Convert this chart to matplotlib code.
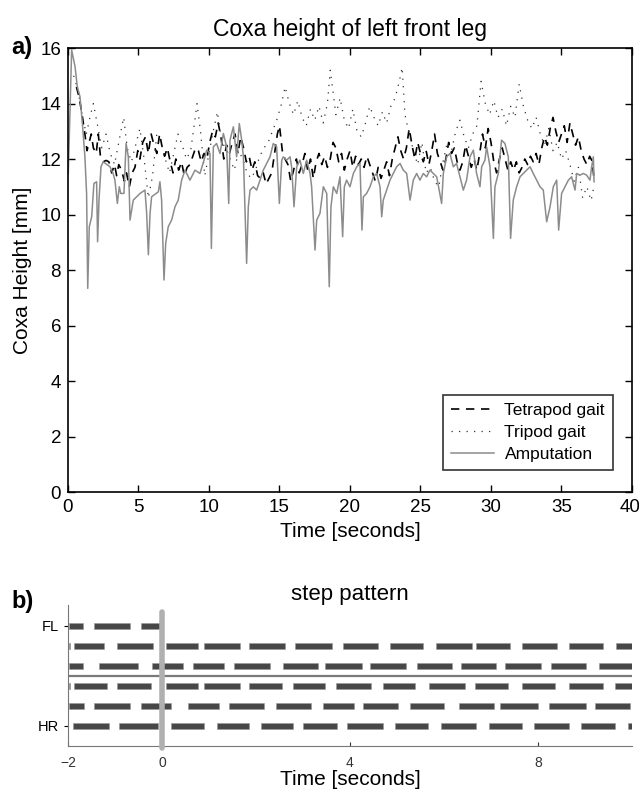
import matplotlib
matplotlib.use("Agg")
import matplotlib.pyplot as plt
import matplotlib.transforms as mtransforms
import numpy as np

plt.rcParams['font.family'] = ['Liberation Sans', 'DejaVu Sans']

# --- panel a: coxa height (mm) over time (s) ---
amp_t = [0.02, 0.26, 0.50, 0.66, 0.85, 1.04, 1.20, 1.32, 1.40, 1.51, 1.68, 1.84, 2.03, 2.10, 2.20,
         2.34, 2.50, 2.98, 3.20, 3.33, 3.50, 3.64, 3.74, 3.97, 4.12, 4.28, 4.40, 4.63, 5.11, 5.46,
         5.58, 5.70, 5.82, 5.93, 6.41, 6.52, 6.64, 6.81, 6.93, 7.11, 7.35, 7.59, 7.82, 8.06, 8.30,
         8.65, 9.01, 9.36, 9.65, 9.84, 10.07, 10.17, 10.31, 10.54, 10.78, 11.02, 11.25, 11.40, 11.49,
         11.73, 11.96, 12.15, 12.32, 12.44, 12.67, 12.79, 12.91, 13.15, 13.38, 13.62, 13.85, 14.09,
         14.33, 14.56, 14.80, 14.99, 15.16, 15.27, 15.51, 15.75, 15.86, 16.03, 16.22, 16.45, 16.69,
         16.93, 17.17, 17.28, 17.52, 17.64, 17.87, 18.11, 18.35, 18.53, 18.65, 18.82, 19.06, 19.29,
         19.48, 19.60, 19.76, 20.00, 20.24, 20.48, 20.71, 20.85, 20.95, 21.18, 21.42, 21.66, 21.89,
         22.13, 22.25, 22.36, 22.60, 22.84, 23.07, 23.31, 23.55, 23.78, 24.02, 24.26, 24.49, 24.73,
         24.96, 25.20, 25.44, 25.67, 25.91, 26.15, 26.50, 26.62, 26.86, 27.09, 27.33, 27.56, 27.80,
         28.04, 28.27, 28.51, 28.75, 28.98, 29.22, 29.34, 29.57, 29.69, 29.93, 30.17, 30.28, 30.52,
         30.75, 30.99, 31.23, 31.39, 31.58, 31.82, 32.06, 32.29, 32.53, 32.77, 33.00, 33.24, 33.48,
         33.71, 33.95, 34.19, 34.42, 34.66, 34.80, 35.01, 35.25, 35.49, 35.72, 35.96, 36.08, 36.31,
         36.55, 36.78, 37.02, 37.14, 37.26, 37.31]
amp_v = [11.48, 15.93, 15.33, 14.61, 14.25, 13.16, 12.08, 10.76, 7.34, 9.56, 9.92, 11.12, 11.18, 9.02, 10.52,
         11.72, 11.90, 11.72, 11.48, 11.24, 10.40, 11.00, 10.76, 10.76, 12.56, 12.08, 9.80, 10.52, 10.76, 10.88,
         10.04, 8.55, 10.04, 10.64, 10.82, 11.18, 10.52, 7.64, 8.96, 9.56, 9.80, 10.28, 10.52, 11.24, 11.60,
         11.24, 11.60, 11.48, 11.96, 12.32, 12.20, 8.78, 12.44, 12.56, 12.20, 12.92, 12.44, 10.40, 12.68,
         13.16, 12.08, 13.28, 12.68, 12.08, 8.24, 10.28, 10.88, 11.00, 10.88, 11.24, 11.60, 11.84,
         12.08, 12.56, 12.44, 10.40, 11.96, 12.08, 11.96, 12.08, 11.72, 10.28, 11.72, 11.96, 11.48,
         11.96, 11.48, 11.00, 8.72, 9.80, 10.04, 11.00, 10.76, 7.40, 10.28, 11.00, 10.76, 11.36,
         9.20, 11.00, 11.24, 11.00, 11.48, 11.72, 11.84, 9.44, 10.64, 10.76, 11.00, 11.36, 11.48,
         11.00, 9.92, 10.52, 10.88, 11.24, 11.48, 11.72, 11.84, 11.60, 11.48, 10.52, 11.24, 11.48,
         11.24, 11.48, 11.36, 11.60, 11.48, 11.36, 10.40, 11.48, 12.08, 12.20, 11.72, 11.84, 11.36,
         10.88, 11.24, 12.08, 12.32, 11.48, 11.00, 11.72, 11.96, 12.44, 11.72, 9.14, 11.00, 11.48,
         12.68, 12.56, 12.08, 9.14, 10.52, 11.00, 11.36, 11.48, 11.60, 11.72, 11.48, 11.24, 11.00,
         10.88, 9.74, 10.28, 11.00, 11.24, 9.44, 10.76, 11.00, 11.24, 11.36, 10.88, 11.48, 11.42,
         11.48, 11.42, 11.24, 11.72, 12.08, 11.18]

tetra_t = [0.6, 0.8, 1.0, 1.2, 1.35, 1.5, 1.65, 1.8, 2.0, 2.15, 2.3, 2.5, 2.7, 2.9, 3.1, 3.3, 3.45, 3.6,
           3.8, 4.0, 4.15, 4.35, 4.55, 4.75, 4.95, 5.1, 5.3, 5.5, 5.7, 5.9, 6.1, 6.3, 6.5, 6.65, 6.85,
           7.05, 7.25, 7.45, 7.65, 7.85, 8.05, 8.25, 8.45, 8.65, 8.85, 9.05, 9.25, 9.45, 9.65, 9.85,
           10.05, 10.25, 10.45, 10.65, 10.85, 11.05, 11.25, 11.45, 11.65, 11.85, 12.05, 12.25, 12.45,
           12.65, 12.85, 13.05, 13.25, 13.45, 13.65, 13.85, 14.05, 14.25, 14.45, 14.65, 14.85, 15.0,
           15.2, 15.4, 15.6, 15.8, 16.0, 16.2, 16.4, 16.6, 16.8, 17.0, 17.2, 17.4, 17.6, 17.8, 18.0,
           18.2, 18.4, 18.6, 18.8, 19.0, 19.2, 19.4, 19.6, 19.8, 20.0, 20.2, 20.4, 20.6, 20.8, 21.0,
           21.2, 21.4, 21.6, 21.8, 22.0, 22.2, 22.4, 22.6, 22.8, 23.0, 23.2, 23.4, 23.6, 23.8, 24.0,
           24.2, 24.4, 24.6, 24.8, 25.0, 25.2, 25.4, 25.6, 25.8, 26.0, 26.2, 26.4, 26.6, 26.8, 27.0,
           27.2, 27.4, 27.6, 27.8, 28.0, 28.2, 28.4, 28.6, 28.8, 29.0, 29.2, 29.4, 29.6, 29.8, 30.0,
           30.2, 30.4, 30.6, 30.8, 31.0, 31.2, 31.4, 31.6, 31.8, 32.0, 32.2, 32.4, 32.6, 32.8, 33.0,
           33.2, 33.4, 33.6, 33.8, 34.0, 34.2, 34.4, 34.6, 34.8, 35.0, 35.2, 35.4, 35.6, 35.8, 36.0,
           36.2, 36.4, 36.6, 36.8, 37.0, 37.2, 37.3]
tetra_v = [14.6, 14.2, 13.6, 12.9, 12.3, 12.6, 12.9, 12.4, 12.2, 12.9, 12.1, 11.9, 11.95, 11.9, 11.5, 11.8,
           11.4, 11.8, 11.6, 11.2, 11.5, 11.0, 11.5, 11.7, 12.3, 12.0, 12.6, 12.8, 12.2, 12.9, 12.5, 12.2,
           12.9, 12.5, 12.1, 12.4, 11.9, 11.5, 12.0, 11.6, 11.9, 11.4, 11.7, 11.8, 12.1, 12.4, 12.3, 11.9,
           12.2, 12.0, 12.6, 13.0, 12.8, 13.3, 12.8, 12.0, 12.5, 12.2, 12.6, 12.9, 12.2, 12.8, 12.4, 11.9,
           12.1, 11.6, 11.9, 11.4, 11.3, 11.5, 11.1, 11.3, 11.5, 12.2, 12.9, 13.2, 12.3, 12.0, 11.8, 11.2,
           11.6, 12.0, 11.5, 11.8, 12.2, 11.6, 12.0, 11.3, 11.9, 12.2, 11.8, 12.1, 11.7, 12.0, 12.6, 12.4,
           11.9, 12.2, 11.6, 12.0, 12.3, 11.7, 12.1, 11.8, 12.0, 11.7, 12.1, 11.8, 11.5, 11.2, 11.7, 11.3,
           11.6, 11.9, 11.4, 12.0, 12.4, 12.8, 12.3, 12.0, 12.4, 13.1, 12.5, 12.0, 12.6, 12.2, 11.9, 12.3,
           11.8, 12.3, 12.9, 12.2, 11.9, 11.6, 12.0, 12.6, 12.2, 12.4, 11.9, 11.6, 11.9, 12.5, 12.1, 11.7,
           12.0, 11.6, 12.2, 12.9, 12.4, 13.1, 12.6, 11.9, 11.5, 12.0, 12.4, 12.0, 11.6, 11.9, 11.6, 11.9,
           11.5, 11.7, 12.0, 11.8, 12.1, 11.9, 12.2, 11.8, 12.4, 12.8, 12.5, 13.1, 13.5, 13.0, 12.6, 12.9,
           13.2, 12.6, 13.3, 12.9, 12.5, 12.8, 12.3, 12.0, 11.8, 12.1, 11.9, 11.3]

tri_t = [0.4, 0.7, 1.0, 1.3, 1.6, 1.8, 2.1, 2.4, 2.7, 3.0, 3.3, 3.6, 3.95, 4.2, 4.5, 4.8, 5.1, 5.4, 5.7,
         6.0, 6.3, 6.6, 6.9, 7.2, 7.5, 7.8, 8.1, 8.4, 8.7, 9.0, 9.15, 9.4, 9.7, 10.0, 10.3, 10.6, 10.9,
         11.2, 11.5, 11.8, 12.1, 12.4, 12.7, 13.0, 13.3, 13.6, 13.9, 14.2, 14.5, 14.8, 15.1, 15.4, 15.7,
         16.0, 16.3, 16.6, 16.9, 17.2, 17.5, 17.8, 18.1, 18.4, 18.6, 18.8, 19.0, 19.3, 19.6, 19.9, 20.2,
         20.5, 20.8, 21.1, 21.4, 21.7, 22.0, 22.3, 22.6, 22.9, 23.2, 23.5, 23.7, 23.9, 24.2, 24.5, 24.8,
         25.1, 25.4, 25.7, 26.0, 26.3, 26.6, 26.9, 27.2, 27.5, 27.8, 28.1, 28.4, 28.7, 29.0, 29.3, 29.6,
         29.9, 30.2, 30.5, 30.8, 31.1, 31.4, 31.7, 32.0, 32.3, 32.6, 32.9, 33.2, 33.5, 33.8, 34.1, 34.4,
         34.7, 35.0, 35.3, 35.6, 35.9, 36.2, 36.5, 36.8, 37.1, 37.3]
tri_v = [15.0, 14.5, 13.6, 12.9, 13.6, 14.0, 13.2, 12.4, 12.9, 12.2, 11.8, 12.6, 13.5, 12.4, 11.9, 12.5,
         13.1, 12.0, 10.6, 11.4, 12.9, 12.6, 12.0, 11.5, 12.2, 12.9, 12.5, 12.0, 12.3, 13.4, 14.0, 13.0,
         11.4, 12.2, 13.0, 13.7, 12.6, 12.4, 12.0, 11.6, 12.3, 12.0, 11.5, 11.3, 11.6, 12.1, 12.4, 12.6,
         13.0, 13.4, 13.9, 14.6, 14.0, 13.6, 14.1, 13.5, 13.2, 13.8, 13.4, 13.9, 13.3, 14.0, 15.2, 14.4,
         13.6, 14.2, 13.4, 13.1, 13.8, 13.0, 12.8, 13.3, 13.9, 13.5, 13.2, 13.7, 13.3, 13.9, 14.2, 14.8,
         15.3, 13.6, 12.9, 12.3, 11.8, 12.6, 11.5, 11.7, 11.2, 11.0, 11.9, 12.6, 12.3, 13.0, 13.4, 12.8,
         12.4, 12.9, 13.2, 14.8, 14.0, 13.6, 14.1, 13.5, 13.8, 13.2, 13.9, 13.5, 14.7, 13.9, 13.4, 13.1,
         13.5, 12.9, 12.5, 13.1, 12.3, 12.6, 12.0, 12.3, 11.8, 11.2, 11.7, 10.6, 11.0, 10.5, 11.0]

# --- panel b: stance phases (start, end) in seconds, rows from FL (top) to HR (bottom) ---
row_labels = ['FL', 'HR']
steps_row1 = [(-1.98, -1.68), (-1.45, -0.68), (-0.45, -0.02)]
steps_row2 = [(-1.98, -1.96), (-1.88, -1.24), (-0.96, -0.19), (0.09, 0.76), (0.90, 1.65), (1.86, 2.62),
              (2.83, 3.61), (3.86, 4.60), (4.85, 5.55), (5.82, 6.60), (6.69, 7.41), (7.67, 8.40),
              (8.66, 9.38), (9.65, 10.0)]
steps_row3 = [(-1.98, -1.69), (-1.33, -0.51), (-0.22, 0.44), (0.65, 1.33), (1.53, 2.30), (2.57, 3.31),
              (3.47, 4.25), (4.43, 5.19), (5.43, 6.18), (6.36, 7.11), (7.30, 8.07), (8.28, 9.02),
              (9.29, 10.0)]
steps_row4 = [(-1.98, -1.96), (-1.88, -1.17), (-0.96, -0.23), (0.09, 0.76), (0.90, 1.65), (1.86, 2.56),
              (2.79, 3.47), (3.71, 4.45), (4.70, 5.39), (5.68, 6.45), (6.66, 7.37), (7.66, 8.36),
              (8.65, 9.38), (9.63, 10.0)]
steps_row5 = [(-1.98, -1.65), (-1.44, -0.68), (-0.44, 0.20), (0.56, 1.21), (1.43, 2.17), (2.43, 3.16),
              (3.42, 4.09), (4.28, 5.03), (5.28, 6.01), (6.33, 7.06), (7.20, 7.99), (8.24, 9.02),
              (9.22, 9.96)]
steps_row6 = [(-1.89, -1.12), (-0.91, -0.08), (0.19, 0.90), (1.18, 1.85), (2.11, 2.78), (2.99, 3.72),
              (3.93, 4.70), (4.96, 5.67), (5.94, 6.68), (6.95, 7.65), (7.92, 8.67), (8.92, 9.63),
              (9.91, 10.0)]

fig = plt.figure(figsize=(6.39, 7.90), dpi=100)

# ---------------- panel a ----------------
ax = fig.add_axes([0.1064, 0.3772, 0.8826, 0.5620])
ax.plot(tetra_t, tetra_v, color='black', lw=1.2, linestyle=(0, (5, 4)), label='Tetrapod gait')
ax.plot(tri_t, tri_v, color='#333333', lw=0.9, linestyle=(0, (1, 5)), label='Tripod gait')
ax.plot(amp_t, amp_v, color='#8c8c8c', lw=1.1, label='Amputation')
ax.set_xlim(0, 40)
ax.set_ylim(0, 16)
ax.set_xticks(range(0, 41, 5))
ax.set_yticks(range(0, 17, 2))
ax.tick_params(direction='in', top=True, right=True, length=5, width=1, labelsize=13.5, pad=5)
for s in ax.spines.values():
    s.set_linewidth(1.2)
# last x label sits at the figure edge, pull it in a little
last = ax.get_xticklabels()[-1]
last.set_ha('right')
last.set_transform(last.get_transform() + mtransforms.ScaledTranslation(6 / 72, 0, fig.dpi_scale_trans))
ax.set_xlabel('Time [seconds]', fontsize=15, labelpad=4)
ax.set_ylabel('Coxa Height [mm]', fontsize=15, labelpad=6)
ax.set_title('Coxa height of left front leg', fontsize=16.5, pad=9)
leg = ax.legend(loc='lower right', bbox_to_anchor=(0.966, 0.049), fontsize=12.5, frameon=True,
                fancybox=False, handlelength=2.5, borderpad=0.45, labelspacing=0.4,
                handletextpad=0.6, borderaxespad=0)
leg.get_frame().set_edgecolor('black')
leg.get_frame().set_linewidth(1.2)
fig.text(0.018, 0.94, 'a)', fontsize=17, fontweight='bold', va='center')

# ---------------- panel b ----------------
bx = fig.add_axes([0.1064, 0.0557, 0.8826, 0.1785])
rows = [steps_row1, steps_row2, steps_row3, steps_row4, steps_row5, steps_row6]
for i, row in enumerate(rows):
    y = 6 - i
    bx.broken_barh([(a, b - a) for a, b in row], (y - 0.15, 0.3), facecolors='#474747',
                   edgecolors='#9a9a9a', linewidth=0.4)
bx.axhline(3.5, color='#7a7a7a', lw=1.6)
bx.plot([0, 0], [-0.1, 6.7], color='#b0b0b0', lw=4, solid_capstyle='round', clip_on=False, zorder=5)
bx.set_xlim(-2, 10)
bx.set_ylim(0, 7.05)
bx.set_xticks([-2, 0, 4, 8])
bx.set_yticks([6, 1])
bx.set_yticklabels(row_labels)
bx.tick_params(axis='x', direction='in', length=3, labelsize=10, colors='#333333', pad=7)
bx.tick_params(axis='y', direction='out', length=3, labelsize=10.5)
bx.spines['top'].set_visible(False)
bx.spines['right'].set_visible(False)
bx.spines['left'].set_color('#777777')
bx.spines['bottom'].set_color('#777777')
bx.set_xlabel('Time [seconds]', fontsize=15, labelpad=0)
bx.set_title('step pattern', fontsize=16, pad=3)
fig.text(0.018, 0.239, 'b)', fontsize=17, fontweight='bold', va='center')

fig.savefig('out.png', dpi=100)
